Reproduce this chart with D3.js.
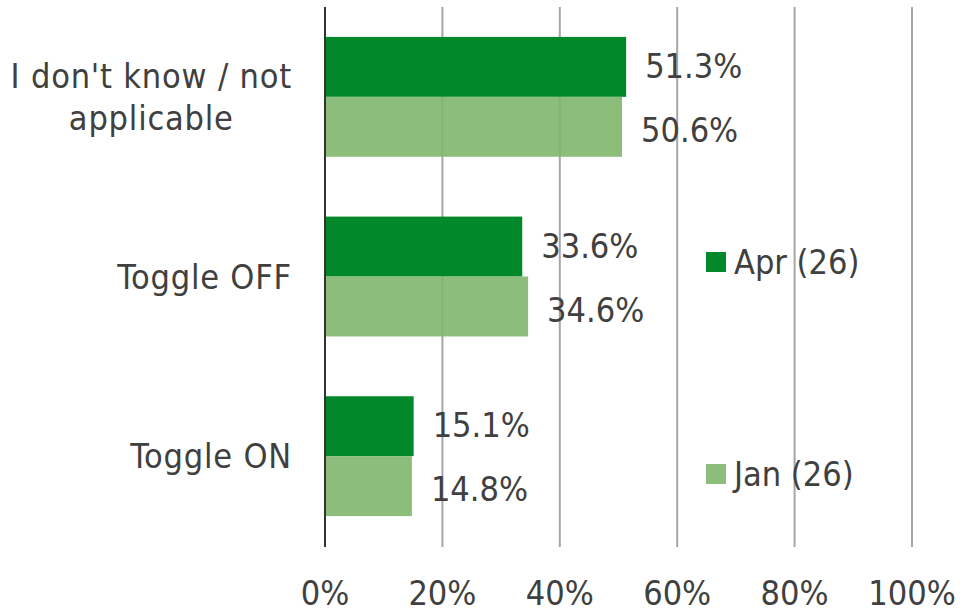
<!DOCTYPE html>
<html><head><meta charset="utf-8">
<script src="https://cdn.jsdelivr.net/npm/d3@7"></script>
<style>
html,body{margin:0;padding:0;background:#fff;}
text{font-family:"DejaVu Sans Condensed","DejaVu Sans",sans-serif;font-stretch:condensed;fill:#404040;}
</style></head>
<body><svg id="c" width="960" height="612"></svg>
<script>
const categories = [["I don't know / not","applicable"],["Toggle OFF"],["Toggle ON"]];
const seriesNames = ["Apr (26)","Jan (26)"];
const aprValues = [51.3, 33.6, 15.1];
const janValues = [50.6, 34.6, 14.8];
const tickValues = [0,20,40,60,80,100];
const colors = ["#00882B","#7FB66B"];

const svg = d3.select("#c");
const x = d3.scaleLinear().domain([0,100]).range([325,912]);
const y = d3.scaleBand().domain(d3.range(categories.length)).range([7,546]).paddingInner(0.333).paddingOuter(0.1665);
const yInner = d3.scaleBand().domain([0,1]).range([0,y.bandwidth()]);
const fs = 34;

// gridlines
svg.append("g").selectAll("line").data(tickValues.slice(1)).join("line")
  .attr("x1",d=>x(d)).attr("x2",d=>x(d)).attr("y1",7).attr("y2",547)
  .attr("stroke","#a6a6a6").attr("stroke-width",2);

const series = [aprValues, janValues];
series.forEach((vals,si)=>{
  const g = svg.append("g");
  g.selectAll("rect").data(vals).join("rect")
    .attr("x",x(0)).attr("width",d=>x(d)-x(0))
    .attr("y",(d,i)=>y(i)+yInner(si)).attr("height",yInner.bandwidth())
    .attr("fill",colors[si]).attr("fill-opacity",si===1?0.9:1);
  g.selectAll("text").data(vals).join("text")
    .attr("x",d=>x(d)+19).attr("y",(d,i)=>y(i)+yInner(si)+yInner.bandwidth()/2+ (si===0?-1:3))
    .attr("dy","0.36em").attr("font-size",fs)
    .text(d=>d.toFixed(1)+"%");
});

// axis line
svg.append("line").attr("x1",x(0)).attr("x2",x(0)).attr("y1",7).attr("y2",547)
  .attr("stroke","#333").attr("stroke-width",2);

// tick labels
svg.append("g").selectAll("text").data(tickValues).join("text")
  .attr("x",d=>x(d)).attr("y",605).attr("text-anchor","middle").attr("font-size",fs)
  .text(d=>d+"%");

// category labels
categories.forEach((lines,i)=>{
  const cy = y(i)+y.bandwidth()/2;
  const lh = 42;
  const g = svg.append("g");
  const ts = lines.map((l,k)=>g.append("text").attr("font-size",fs).attr("letter-spacing","0.8px")
    .attr("y",cy + (k-(lines.length-1)/2)*lh).attr("dy","0.36em").text(l));
  const maxW = d3.max(ts,t=>t.node().getComputedTextLength());
  ts.forEach(t=>t.attr("x",292-maxW/2).attr("text-anchor","middle"));
});

// legend
const legY = [252,464];
seriesNames.forEach((n,i)=>{
  svg.append("rect").attr("x",706).attr("y",legY[i]).attr("width",20).attr("height",20).attr("fill",colors[i]).attr("fill-opacity",i===1?0.9:1);
  svg.append("text").attr("x",734).attr("y",legY[i]+10).attr("dy","0.36em").attr("font-size",fs).text(n);
});
</script></body></html>
